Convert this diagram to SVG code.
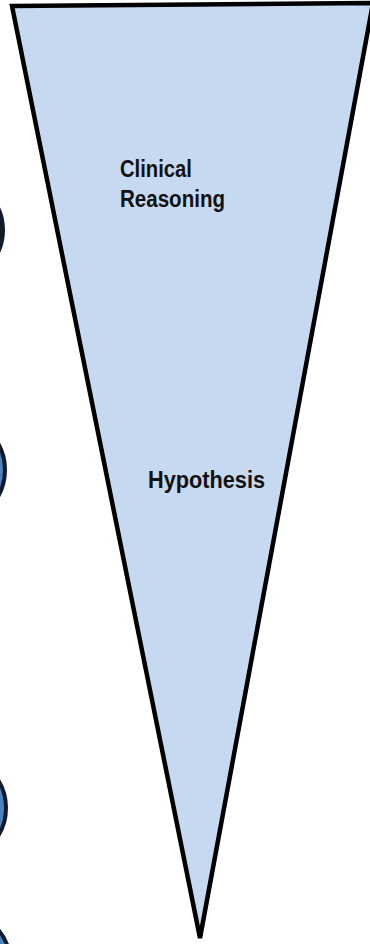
<svg xmlns="http://www.w3.org/2000/svg" width="370" height="944" viewBox="0 0 370 944">
<style>
.funnel{fill:#c6d9f1;stroke:#000;stroke-width:4.5;stroke-linejoin:miter}
.lbl{font-family:"Liberation Sans",Arial,sans-serif;font-weight:bold;font-size:23px;fill:#111}
.dot{fill:#4f81bd;stroke:#111a2e;stroke-width:4}
</style>
<rect width="370" height="944" fill="#fff"/>
<g id="circles">
<circle class="dot" cx="-48" cy="230" r="51" style="fill:#1a1a1a"/>
<circle class="dot" cx="-48" cy="470" r="53"/>
<circle class="dot" cx="-47" cy="808" r="53"/>
<circle class="dot" cx="-40" cy="962" r="50"/>
</g>
<g id="funnel">
<polygon class="funnel" points="12,6 373,3 200,938"/>
</g>
<g id="label-clinical-reasoning">
<text class="lbl" x="120" y="177" textLength="72" lengthAdjust="spacingAndGlyphs">Clinical</text>
<text class="lbl" x="120" y="207" textLength="105" lengthAdjust="spacingAndGlyphs">Reasoning</text>
</g>
<g id="label-hypothesis">
<text class="lbl" x="148" y="488" textLength="117" lengthAdjust="spacingAndGlyphs">Hypothesis</text>
</g>
<g id="connectors"/>
</svg>
